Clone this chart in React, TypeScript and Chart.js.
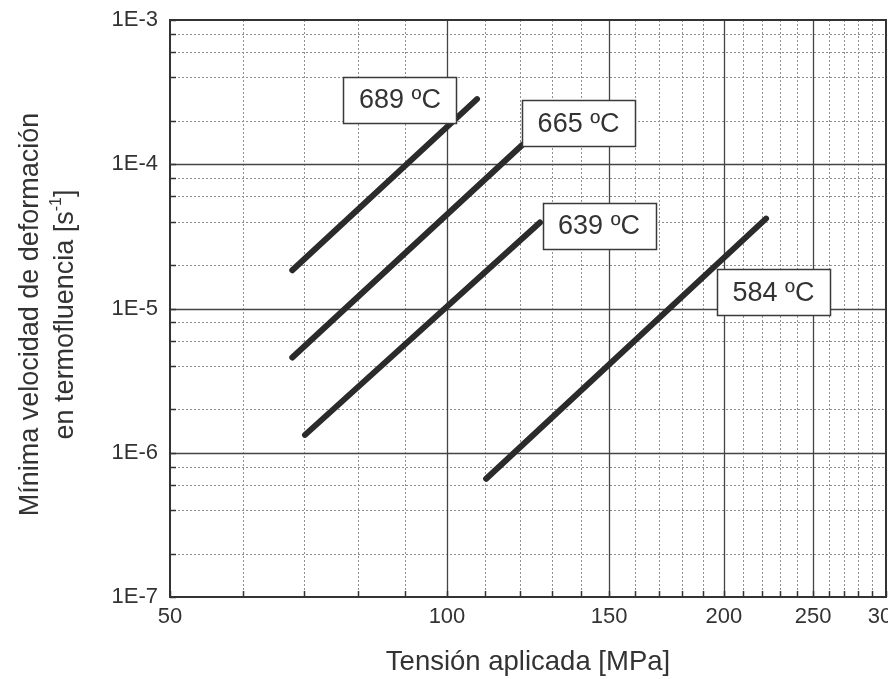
import React, { useEffect, useRef } from "react";
import { Chart, registerables } from "chart.js";

Chart.register(...registerables);

const FONT = '"Liberation Sans", Arial, Helvetica, sans-serif';
const INK = "#333333";

// Fitted creep lines: applied stress [MPa] and minimum creep rate [1/s] at both ends
const temperatures = ["689 ºC", "665 ºC", "639 ºC", "584 ºC"];
const stress689 = [67.9, 107.8];
const rate689 = [1.84e-5, 2.83e-4];
const stress665 = [67.9, 120.7];
const rate665 = [4.57e-6, 1.36e-4];
const stress639 = [70.1, 126.2];
const rate639 = [1.33e-6, 3.95e-5];
const stress584 = [110.3, 222.2];
const rate584 = [6.6e-7, 4.2e-5];

// Centre of each temperature tag, in data units
const tagStress = [88.9, 139.0, 146.3, 226.4];
const tagRate = [2.79e-4, 1.92e-4, 3.73e-5, 1.3e-5];

// Axis ticks
const xMajor = [50, 100, 150, 200, 250, 300];
const xTickLabels = ["50", "100", "150", "200", "250", "300"];
const xMinor = [60, 70, 80, 90, 110, 120, 130, 140, 160, 170, 180, 190, 210, 220, 230, 240, 260, 270, 280, 290];
const yMajor = [1e-7, 1e-6, 1e-5, 1e-4, 1e-3];
const yTickLabels = ["1E-7", "1E-6", "1E-5", "1E-4", "1E-3"];
const yMinorFactors = [2, 4, 6, 8];

const xTitle = "Tensión aplicada [MPa]";
const yTitleLine1 = "Mínima velocidad de deformación";
const yTitleLine2 = ["en termofluencia [s", "-1", "]"];

const pairs = (xs: number[], ys: number[]) => xs.map((x, i) => ({ x, y: ys[i] }));

const yMinor: number[] = [];
for (let d = 0; d < yMajor.length - 1; d++) {
  for (const f of yMinorFactors) yMinor.push(yMajor[d] * f);
}

const plotDecor = {
  id: "plotDecor",
  beforeDatasetsDraw(chart: any) {
    const { ctx, chartArea: a, scales } = chart;
    const x = scales.x;
    const y = scales.y;
    ctx.save();
    // dotted minor grid
    ctx.strokeStyle = "#8f8f8f";
    ctx.lineWidth = 1;
    ctx.setLineDash([2, 2]);
    for (const v of xMinor) {
      const px = Math.round(x.getPixelForValue(v)) + 0.5;
      ctx.beginPath();
      ctx.moveTo(px, a.top);
      ctx.lineTo(px, a.bottom);
      ctx.stroke();
    }
    for (const v of yMinor) {
      const py = Math.round(y.getPixelForValue(v)) + 0.5;
      ctx.beginPath();
      ctx.moveTo(a.left, py);
      ctx.lineTo(a.right, py);
      ctx.stroke();
    }
    // solid major grid
    ctx.setLineDash([]);
    ctx.strokeStyle = "#444444";
    ctx.lineWidth = 1.3;
    for (const v of xMajor.slice(1, -1)) {
      const px = Math.round(x.getPixelForValue(v)) + 0.5;
      ctx.beginPath();
      ctx.moveTo(px, a.top);
      ctx.lineTo(px, a.bottom);
      ctx.stroke();
    }
    for (const v of yMajor.slice(1, -1)) {
      const py = Math.round(y.getPixelForValue(v)) + 0.5;
      ctx.beginPath();
      ctx.moveTo(a.left, py);
      ctx.lineTo(a.right, py);
      ctx.stroke();
    }
    ctx.restore();
  },
  afterDatasetsDraw(chart: any) {
    const { ctx, chartArea: a, scales } = chart;
    const x = scales.x;
    const y = scales.y;
    ctx.save();

    // temperature tags
    const bw = 113;
    const bh = 46;
    ctx.font = `27px ${FONT}`;
    ctx.textAlign = "center";
    ctx.textBaseline = "middle";
    temperatures.forEach((t, i) => {
      const cx = x.getPixelForValue(tagStress[i]);
      const cy = y.getPixelForValue(tagRate[i]);
      const l = Math.round(cx - bw / 2) + 0.5;
      const tp = Math.round(cy - bh / 2) + 0.5;
      ctx.fillStyle = "#ffffff";
      ctx.fillRect(l, tp, bw, bh);
      ctx.strokeStyle = "#3a3a3a";
      ctx.lineWidth = 1.5;
      ctx.strokeRect(l, tp, bw, bh);
      ctx.fillStyle = INK;
      ctx.fillText(t, cx, cy + 1);
    });

    // frame
    ctx.strokeStyle = "#333333";
    ctx.lineWidth = 2;
    ctx.strokeRect(a.left, a.top, a.right - a.left, a.bottom - a.top);

    // inward tick marks
    ctx.lineWidth = 1.5;
    for (const v of [...xMajor, ...xMinor]) {
      const px = Math.round(x.getPixelForValue(v)) + 0.5;
      ctx.beginPath();
      ctx.moveTo(px, a.bottom);
      ctx.lineTo(px, a.bottom - 6);
      ctx.stroke();
    }
    for (const v of [...yMajor, ...yMinor]) {
      const py = Math.round(y.getPixelForValue(v)) + 0.5;
      ctx.beginPath();
      ctx.moveTo(a.left, py);
      ctx.lineTo(a.left + 6, py);
      ctx.stroke();
    }

    // tick labels
    ctx.fillStyle = INK;
    ctx.font = `22px ${FONT}`;
    ctx.textBaseline = "middle";
    ctx.textAlign = "right";
    yMajor.forEach((v, i) => {
      ctx.fillText(yTickLabels[i], a.left - 12, y.getPixelForValue(v));
    });
    ctx.textAlign = "center";
    xMajor.forEach((v, i) => {
      ctx.fillText(xTickLabels[i], x.getPixelForValue(v), a.bottom + 20);
    });

    // axis titles
    ctx.font = `27.5px ${FONT}`;
    ctx.textAlign = "center";
    ctx.textBaseline = "middle";
    ctx.fillText(xTitle, (a.left + a.right) / 2, 662);

    const midY = (a.top + a.bottom) / 2 + 6;
    ctx.font = `27px ${FONT}`;
    ctx.save();
    ctx.translate(31, midY);
    ctx.rotate(-Math.PI / 2);
    ctx.fillText(yTitleLine1, 0, 0);
    ctx.restore();

    ctx.save();
    ctx.translate(66, midY);
    ctx.rotate(-Math.PI / 2);
    ctx.textAlign = "left";
    const big = `27px ${FONT}`;
    const small = `16px ${FONT}`;
    ctx.font = big;
    const w0 = ctx.measureText(yTitleLine2[0]).width;
    const w2 = ctx.measureText(yTitleLine2[2]).width;
    ctx.font = small;
    const w1 = ctx.measureText(yTitleLine2[1]).width;
    let sx = -(w0 + w1 + w2) / 2;
    ctx.font = big;
    ctx.fillText(yTitleLine2[0], sx, 0);
    sx += w0;
    ctx.font = small;
    ctx.fillText(yTitleLine2[1], sx, -9);
    sx += w1;
    ctx.font = big;
    ctx.fillText(yTitleLine2[2], sx, 0);
    ctx.restore();

    ctx.restore();
  },
};

export default function App() {
  const ref = useRef<HTMLCanvasElement>(null);

  useEffect(() => {
    const lineStyle = {
      borderColor: "#2b2b2b",
      borderWidth: 6,
      borderCapStyle: "round" as const,
      pointRadius: 0,
      fill: false,
      tension: 0,
    };
    const chart = new Chart(ref.current!, {
      type: "line",
      data: {
        datasets: [
          { label: temperatures[0], data: pairs(stress689, rate689), ...lineStyle },
          { label: temperatures[1], data: pairs(stress665, rate665), ...lineStyle },
          { label: temperatures[2], data: pairs(stress639, rate639), ...lineStyle },
          { label: temperatures[3], data: pairs(stress584, rate584), ...lineStyle },
        ],
      },
      options: {
        responsive: false,
        animation: false,
        devicePixelRatio: 1,
        layout: { padding: { left: 0, right: 2, top: 20, bottom: 0 } },
        plugins: { legend: { display: false }, tooltip: { enabled: false } },
        scales: {
          x: {
            type: "logarithmic",
            min: 50,
            max: 300,
            ticks: { display: false },
            grid: { display: false },
            border: { display: false },
            afterFit: (s: any) => {
              s.height = 82;
              s.paddingLeft = 0;
              s.paddingRight = 0;
            },
          },
          y: {
            type: "logarithmic",
            min: 1e-7,
            max: 1e-3,
            ticks: { display: false },
            grid: { display: false },
            border: { display: false },
            afterFit: (s: any) => {
              s.width = 170;
              s.paddingTop = 0;
              s.paddingBottom = 0;
            },
          },
        },
      },
      plugins: [plotDecor],
    });
    return () => chart.destroy();
  }, []);

  return (
    <div style={{ position: "fixed", left: 0, top: 0, width: 888, height: 679, background: "#ffffff" }}>
      <canvas ref={ref} width={888} height={679} style={{ display: "block" }} />
    </div>
  );
}
